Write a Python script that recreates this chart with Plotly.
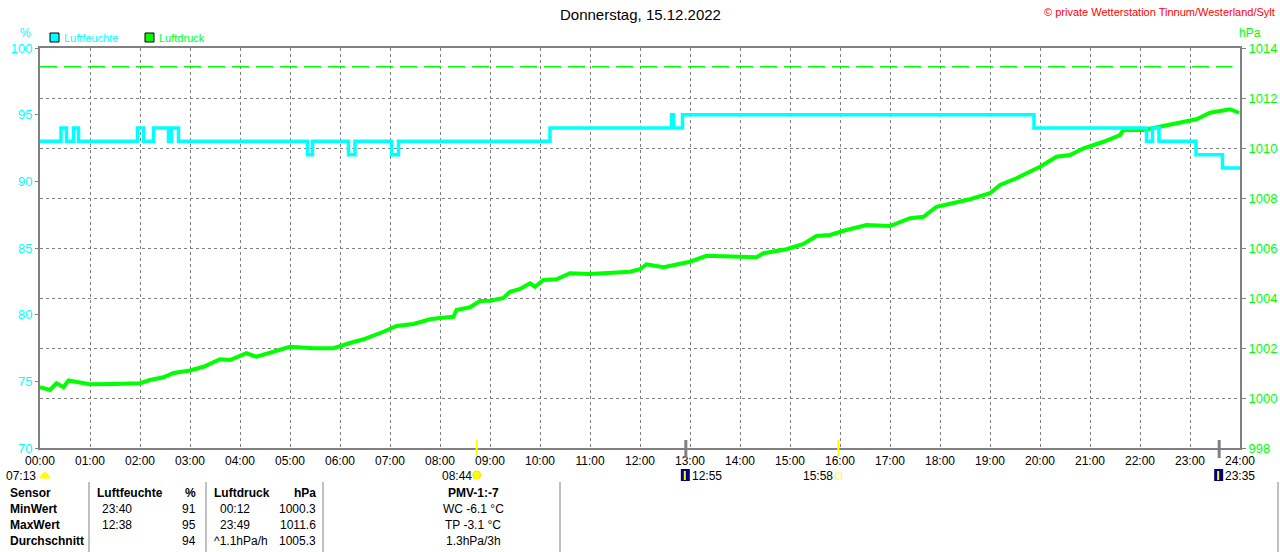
import plotly.graph_objects as go

# Luftdruck (hPa), Zeit in Stunden
druck_h = [0.0, 0.2, 0.33, 0.47, 0.57, 0.8, 1.0, 1.47, 2.0, 2.2, 2.47, 2.67, 3.0, 3.27,
           3.6, 3.8, 4.13, 4.33, 4.67, 5.0, 5.47, 5.87, 6.2, 6.47, 6.87, 7.13, 7.47, 7.8,
           8.0, 8.27, 8.33, 8.6, 8.8, 9.0, 9.27, 9.4, 9.6, 9.8, 9.9, 10.07, 10.33, 10.6,
           11.0, 11.47, 11.8, 12.0, 12.13, 12.47, 12.73, 13.0, 13.33, 13.8, 14.33, 14.47,
           14.93, 15.27, 15.53, 15.8, 16.13, 16.53, 17.0, 17.4, 17.67, 17.93, 18.27, 18.6,
           19.0, 19.2, 19.53, 20.0, 20.33, 20.6, 20.87, 21.27, 21.6, 21.67, 22.07, 22.47,
           22.87, 23.13, 23.4, 23.8, 23.98]
druck_hpa = [1000.43, 1000.32, 1000.59, 1000.43, 1000.70, 1000.60, 1000.55, 1000.56,
             1000.59, 1000.72, 1000.83, 1001.00, 1001.10, 1001.25, 1001.55, 1001.52,
             1001.79, 1001.65, 1001.85, 1002.05, 1001.99, 1001.99, 1002.20, 1002.35,
             1002.65, 1002.88, 1002.96, 1003.15, 1003.20, 1003.25, 1003.52, 1003.63,
             1003.88, 1003.89, 1004.00, 1004.25, 1004.36, 1004.59, 1004.45, 1004.72,
             1004.75, 1004.99, 1004.96, 1005.03, 1005.05, 1005.15, 1005.35, 1005.23,
             1005.35, 1005.45, 1005.69, 1005.65, 1005.63, 1005.79, 1005.95, 1006.16,
             1006.48, 1006.52, 1006.72, 1006.92, 1006.88, 1007.19, 1007.25, 1007.65,
             1007.79, 1007.95, 1008.19, 1008.52, 1008.79, 1009.25, 1009.65, 1009.72,
             1009.99, 1010.25, 1010.52, 1010.72, 1010.72, 1010.88, 1011.01, 1011.15,
             1011.41, 1011.55, 1011.41]

# Luftfeuchte (%), Stufen
feuchte_h = [0.0, 0.42, 0.53, 0.67, 0.77, 1.95, 2.07, 2.27, 2.57, 2.63, 2.77, 5.35, 5.45,
             6.17, 6.30, 7.03, 7.17, 10.2, 12.63, 12.67, 12.85, 19.88, 22.13, 22.25,
             22.38, 23.12, 23.65, 24.0]
feuchte_pct = [93, 94, 93, 94, 93, 94, 93, 94, 93, 94, 93, 92, 93, 92, 93, 92, 93, 94, 95,
               94, 95, 94, 93, 94, 93, 92, 91, 91]

normaldruck = 1013.25

stunden = list(range(25))
stunden_text = [f"{h:02d}:00" for h in stunden]
feuchte_ticks = [70, 75, 80, 85, 90, 95, 100]
druck_ticks = [998, 1000, 1002, 1004, 1006, 1008, 1010, 1012, 1014]

titel = "Donnerstag, 15.12.2022"
copyright_text = "\u00a9 private Wetterstation Tinnum/Westerland/Sylt"

sonne_auf = "08:44"
sonne_unter = "15:58"
daemmerung = "07:13"
mond_unter = "12:55"
mond_auf = "23:35"

tabelle_zeilen = ["Sensor", "MinWert", "MaxWert", "Durchschnitt"]
feuchte_zeit = ["Luftfeuchte", "23:40", "12:38", ""]
feuchte_wert = ["%", "91", "95", "94"]
druck_zeit = ["Luftdruck", "00:12", "23:49", "^1.1hPa/h"]
druck_wert = ["hPa", "1000.3", "1011.6", "1005.3"]
pmv = ["PMV-1:-7", "WC -6.1 \u00b0C", "TP -3.1 \u00b0C", "1.3hPa/3h"]

W, H = 1280, 552
L, R, T, B = 40, 1240, 48, 448
GREY = "#808080"
CYAN = "#00FFFF"
GREEN = "#00FF00"
FONT = "Liberation Sans"
SUN_Y = 476


def px(x):
    return (x - L) / (R - L)


def py(y):
    return (B - y) / (B - T)


def zeit(s):
    h, m = s.split(":")
    return int(h) + int(m) / 60


fig = go.Figure()
fig.add_trace(go.Scatter(x=druck_h, y=druck_hpa, mode="lines", yaxis="y",
                         line=dict(color=GREEN, width=4), name="Luftdruck"))
fig.add_trace(go.Scatter(x=feuchte_h, y=feuchte_pct, mode="lines", yaxis="y2",
                         line=dict(color=CYAN, width=3.5, shape="hv"), name="Luftfeuchte"))

shapes = []
# Normaldruck
shapes.append(dict(type="line", xref="x", yref="y", x0=0, x1=23.85, y0=normaldruck,
                   y1=normaldruck, line=dict(color=GREEN, width=1.5, dash="17px,7px")))

ann = []


def text(t, x, y, anchor="left", color="black", size=12, bold=False, xref="paper", xshift=0):
    if bold:
        t = "<b>" + t + "</b>"
    ann.append(dict(text=t, x=px(x) if xref == "paper" else x, y=py(y), xref=xref,
                    yref="paper", xanchor=anchor, yanchor="middle", showarrow=False,
                    xshift=xshift, font=dict(family=FONT, size=size, color=color)))


text(titel, 640, 15, "center", size=15)
text(copyright_text, 1277, 12, "right", color="#FF0000", size=11)
text("%", 25, 33, "center", color=CYAN, size=12)
text("hPa", 1250, 33, "center", color=GREEN, size=12)

# Legende
for x0, col, lab in [(50, CYAN, "Luftfeuchte"), (145, GREEN, "Luftdruck")]:
    shapes.append(dict(type="rect", xref="paper", yref="paper", x0=px(x0), x1=px(x0 + 9),
                       y0=py(42), y1=py(33), fillcolor=col, line=dict(color="black", width=1)))
    text(lab, x0 + 12, 38, "left", color=col, size=11)

# Sonne / Mond
text(daemmerung, 38, SUN_Y, "right")
shapes.append(dict(type="path", xref="paper", yref="paper",
                   path=f"M {px(40)},{py(478)} Q {px(45)},{py(467)} {px(50)},{py(478)} Z",
                   fillcolor="#FFFF00", line=dict(color="#FFFF00", width=1)))
for s in [sonne_auf, sonne_unter]:
    t = zeit(s)
    shapes.append(dict(type="line", xref="x", yref="paper", x0=t, x1=t, y0=py(456),
                       y1=py(440), line=dict(color="#FFFF00", width=2)))
    text(s, t, SUN_Y, "right", xref="x", xshift=-3)
shapes.append(dict(type="circle", xref="x", yref="paper", xsizemode="pixel",
                   xanchor=zeit(sonne_auf), x0=-4, x1=4, y0=py(479), y1=py(471),
                   fillcolor="#FFFF00", line=dict(color="#FFE000", width=1)))
shapes.append(dict(type="rect", xref="x", yref="paper", xsizemode="pixel",
                   xanchor=zeit(sonne_unter), x0=-3, x1=3, y0=py(479), y1=py(473),
                   line=dict(color="#FFFF00", width=1)))
for s in [mond_unter, mond_auf]:
    t = zeit(s)
    shapes.append(dict(type="line", xref="x", yref="paper", x0=t, x1=t, y0=py(458),
                       y1=py(440), line=dict(color=GREY, width=3)))
    shapes.append(dict(type="rect", xref="x", yref="paper", xsizemode="pixel", xanchor=t,
                       x0=-5, x1=4, y0=py(481), y1=py(469), fillcolor="#000080",
                       line=dict(width=0)))
    shapes.append(dict(type="line", xref="x", yref="paper", xsizemode="pixel", xanchor=t,
                       x0=-1, x1=-1, y0=py(480), y1=py(471),
                       line=dict(color="#FFFF00", width=2)))
    text(s, t, SUN_Y, "left", xref="x", xshift=4)

# Tabelle
zeilen_y = [493, 509, 525, 541]
for i, y in enumerate(zeilen_y):
    kopf = i == 0
    text(tabelle_zeilen[i], 8, y, "left", bold=True)
    text(feuchte_zeit[i], 95 if kopf else 100, y, "left", bold=kopf)
    text(feuchte_wert[i], 198, y, "right", bold=kopf)
    text(druck_zeit[i], 212 if (kopf or i == 3) else 218, y, "left", bold=kopf)
    text(druck_wert[i], 318, y, "right", bold=kopf)
    text(pmv[i], 473, y, "center", bold=kopf)
for x in [89, 206, 323, 560, 1278]:
    shapes.append(dict(type="line", xref="paper", yref="paper", x0=px(x), x1=px(x),
                       y0=py(482), y1=py(552), line=dict(color=GREY, width=1)))

fig.update_layout(
    width=W, height=H,
    margin=dict(l=L, r=W - R, t=T, b=H - B, autoexpand=False),
    paper_bgcolor="white", plot_bgcolor="white",
    showlegend=False,
    font=dict(family=FONT, size=12, color="black"),
    xaxis=dict(range=[0, 24], tickvals=stunden, ticktext=stunden_text, automargin=False,
               showgrid=True, gridcolor=GREY, griddash="3px,3px", gridwidth=1,
               showline=True, linecolor=GREY, linewidth=2, mirror=True,
               zeroline=False, ticks="", ticklabelstandoff=1,
               tickfont=dict(size=12, color="black")),
    yaxis=dict(range=[998, 1014], tickvals=druck_ticks, side="right", automargin=False,
               showgrid=True, gridcolor=GREY, griddash="3px,3px", gridwidth=1,
               showline=True, linecolor=GREY, linewidth=2, zeroline=False,
               ticks="outside", ticklen=4, tickcolor=GREY,
               tickfont=dict(size=13, color=GREEN)),
    yaxis2=dict(range=[70, 100], tickvals=feuchte_ticks, side="left", overlaying="y",
                automargin=False, showgrid=False, showline=True, linecolor=GREY,
                linewidth=2, zeroline=False, ticks="outside", ticklen=3, tickcolor=GREY,
                tickfont=dict(size=13, color=CYAN)),
    shapes=shapes,
    annotations=ann,
)

fig.write_html("out.html", config={"displayModeBar": False},
               post_script="document.body.style.margin='0';"
               "document.body.style.overflow='hidden';")
